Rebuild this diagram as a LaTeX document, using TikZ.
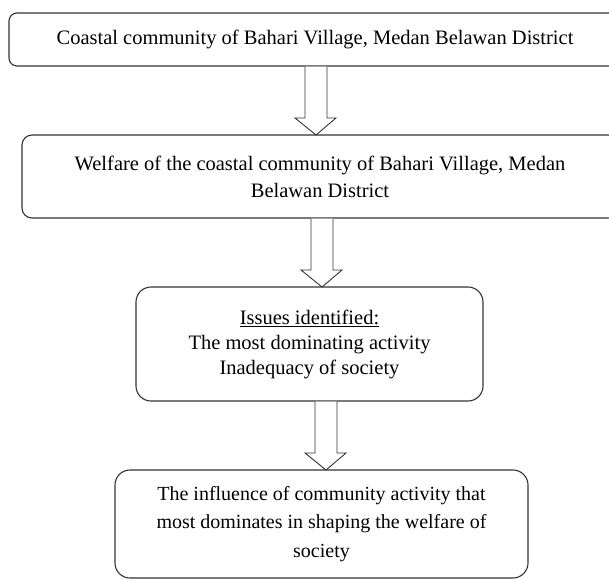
\documentclass[tikz,border=0pt]{standalone}
\usepackage{fontspec}
\setmainfont{Liberation Serif}
\usetikzlibrary{calc}
\tikzset{
  box/.style={draw=black!80, line width=1.1pt, fill=white, rounded corners=#1, align=center, inner sep=0pt, text=black},
  box/.default=9pt,
  blockarr/.style={draw=black!80, line width=0.9pt, fill=white, line join=miter}
}
\newcommand{\blockarrow}[2]{%
  \draw[blockarr] ($(#1)+(-11,0)$) -- ($(#2)+(-11,-17)$) -- ($(#2)+(-21,-17)$) -- (#2)
    -- ($(#2)+(20,-17)$) -- ($(#2)+(11,-17)$) -- ($(#1)+(11,0)$);}
\begin{document}
\begin{tikzpicture}[x=1pt, y=-1pt]
\clip (0,0) rectangle (609,579);
\fill[white] (0,0) rectangle (609,579);
\node[box=8pt, minimum width=612pt, minimum height=53pt, font=\fontsize{20.5}{27}\selectfont] (b1) at (315,39.5)
  {Coastal community of Bahari Village, Medan Belawan District};
\node[box=10pt, minimum width=596pt, minimum height=83pt, font=\fontsize{20.5}{27}\selectfont] (b2) at (320,176.5)
  {Welfare of the coastal community of Bahari Village, Medan\\ Belawan District};
\node[box=15pt, minimum width=347pt, minimum height=114pt, font=\fontsize{20.5}{25}\selectfont] (b3) at (309.5,344)
  {\underline{Issues identified:}\\ The most dominating activity\\ Inadequacy of society};
\node[box=15pt, minimum width=413pt, minimum height=108pt, font=\fontsize{20}{28.5}\selectfont] (b4) at (321.5,524)
  {The influence of community activity that\\ most dominates in shaping the welfare of\\ society};
\coordinate (t1) at (316,135);
\coordinate (t2) at (322,287);
\coordinate (t3) at (326,470);
\blockarrow{b1.south -| t1}{t1}
\blockarrow{b2.south -| t2}{t2}
\blockarrow{b3.south -| t3}{t3}
\end{tikzpicture}
\end{document}
